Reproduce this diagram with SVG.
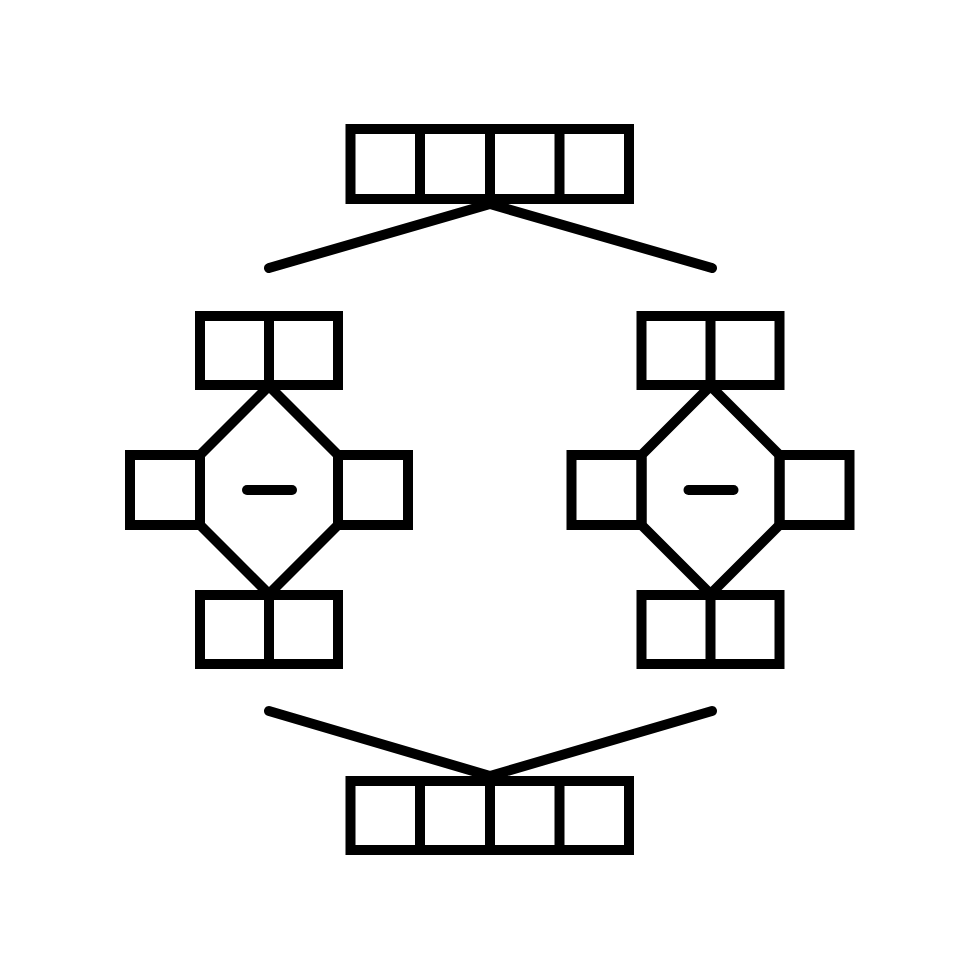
<svg xmlns="http://www.w3.org/2000/svg" width="980" height="980" viewBox="0 0 980 980">
<style>
.s{fill:none;stroke:#000;stroke-width:10;stroke-linejoin:miter}
.r{fill:none;stroke:#000;stroke-width:10;stroke-linecap:round}
</style>
<rect width="980" height="980" fill="#fff"/>
<g id="connectors">
<polyline class="r" points="269,268 490,204 712,268"/>
<polyline class="r" points="269,711 490,776 712,711"/>
</g>
<g id="top-array">
<rect class="s" x="350.5" y="129" width="278.5" height="70"/>
<line class="s" x1="420" y1="129" x2="420" y2="199"/>
<line class="s" x1="490" y1="129" x2="490" y2="199"/>
<line class="s" x1="559.5" y1="129" x2="559.5" y2="199"/>
</g>
<g id="bottom-array">
<rect class="s" x="350.5" y="781" width="278.5" height="69"/>
<line class="s" x1="420" y1="781" x2="420" y2="850"/>
<line class="s" x1="490" y1="781" x2="490" y2="850"/>
<line class="s" x1="559.5" y1="781" x2="559.5" y2="850"/>
</g>
<g id="left-node">
<rect class="s" x="200" y="316" width="138" height="69"/>
<line class="s" x1="269" y1="316" x2="269" y2="385"/>
<rect class="s" x="130" y="455" width="70" height="70"/>
<rect class="s" x="338" y="455" width="70" height="70"/>
<polygon class="s" points="269,386 200,455 200,525 269,594 338,525 338,455"/>
<rect class="s" x="200" y="595" width="138" height="69"/>
<line class="s" x1="269" y1="595" x2="269" y2="664"/>
<line class="r" x1="247" y1="490" x2="292" y2="490"/>
</g>
<g id="right-node" transform="translate(441.5,0)">
<rect class="s" x="200" y="316" width="138" height="69"/>
<line class="s" x1="269" y1="316" x2="269" y2="385"/>
<rect class="s" x="130" y="455" width="70" height="70"/>
<rect class="s" x="338" y="455" width="70" height="70"/>
<polygon class="s" points="269,386 200,455 200,525 269,594 338,525 338,455"/>
<rect class="s" x="200" y="595" width="138" height="69"/>
<line class="s" x1="269" y1="595" x2="269" y2="664"/>
<line class="r" x1="247" y1="490" x2="292" y2="490"/>
</g>
</svg>
